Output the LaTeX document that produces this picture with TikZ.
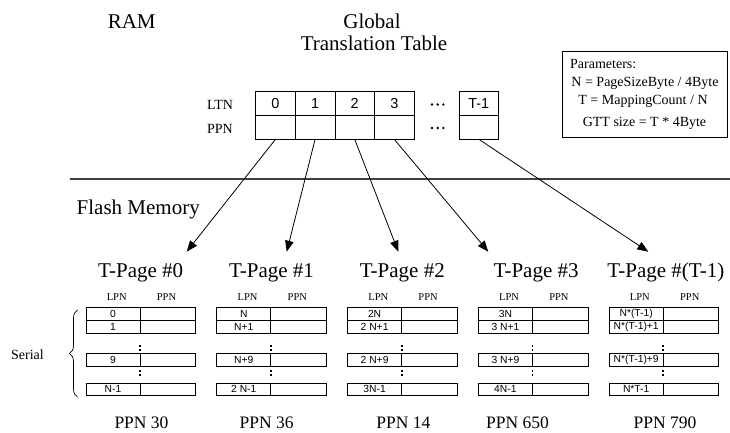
\documentclass[tikz,border=0pt]{standalone}
\usepackage{fontspec}
\setmainfont{Liberation Serif}
\newfontfamily\cellfont{Liberation Sans}
\usetikzlibrary{arrows.meta,decorations.pathreplacing}

\begin{document}
\begin{tikzpicture}[x=1pt,y=-1pt,
  txt/.style={inner sep=0pt, anchor=base},
  gcell/.style={draw, line width=0.8pt, minimum width=39.6pt, minimum height=23.6pt,
    inner sep=0pt, font=\cellfont\fontsize{14.5}{16}\selectfont},
  lcell/.style={draw, line width=0.7pt, minimum width=54pt, minimum height=12.7pt,
    inner sep=0pt, font=\cellfont\fontsize{10.3}{11}\selectfont},
  pcell/.style={draw, line width=0.7pt, minimum width=55.5pt, minimum height=12.7pt,
    inner sep=0pt},
  arr/.style={line width=0.8pt, -{Triangle[length=11pt,width=8.5pt]}},
  big/.style={txt, font=\fontsize{21}{24}\selectfont},
  mid/.style={txt, font=\fontsize{17.5}{20}\selectfont},
  small/.style={txt, font=\fontsize{14}{16}\selectfont},
  tiny/.style={txt, font=\fontsize{10.5}{12}\selectfont},
  vdot/.style={fill=black}
]
\useasboundingbox (0,0) rectangle (730,432);

% headings of the two memory areas
\node[big] (ram) at (131.7,28.3) {RAM};
\node[big] (gtt1) at (372,28.3) {Global};
\node[big] (gtt2) at (374,50) {Translation Table};
\node[big, anchor=base west] (flash) at (76.5,214.3) {Flash Memory};

% boundary between RAM and flash
\draw[line width=1.3pt, black!75] (70,179) -- (730,179);

% global translation table
\node[small] (ltn) at (220,109.3) {LTN};
\node[small] (ppn) at (220,133.3) {PPN};
\foreach \i in {0,1,2,3} {
  \node[gcell] (l\i) at ({275.5+39.6*\i},103.5) {\i};
  \node[gcell] (p\i) at ({275.5+39.6*\i},127.1) {};
}
\node[gcell, minimum width=39pt] (lT) at (478.8,103.5) {T-1};
\node[gcell, minimum width=39pt] (pT) at (478.8,127.1) {};
\foreach \dx in {-5.7,0,5.7} {
  \fill (437.7+\dx,104.5) circle (1.3);
  \fill (437.7+\dx,128) circle (1.3);
}

% parameter box
\node[draw, line width=1pt, minimum width=165.5pt, minimum height=86pt, inner sep=0pt,
  anchor=north west] (params) at (561.5,51) {};
\node[small, anchor=base west] (par0) at (570,68.3) {Parameters:};
\node[small] (par1) at (645,86.7) {N = PageSizeByte / 4Byte};
\node[small] (par2) at (643,104.3) {T = MappingCount / N};
\node[small] (par3) at (644.5,126) {GTT size = T * 4Byte};

% translation pages
\foreach \i/\a/\b/\c/\d/\t/\px/\pl in {
  0/0/1/9/N-1/\#0/141.5/PPN 30,
  1/N/N+1/N+9/2 N-1/\#1/266.7/PPN 36,
  2/2N/2 N+1/2 N+9/3N-1/\#2/403.3/PPN 14,
  3/3N/3 N+1/3 N+9/4N-1/\#3/517.5/PPN 650,
  4/N*(T-1)/N*(T-1)+1/N*(T-1)+9/N*T-1/\#(T-1)/665/PPN 790} {
  \pgfmathsetmacro{\lx}{86+130.8*\i}
  \node[big] (title\i) at ({\lx+54.7+(\i==3)*3+(\i==4)*2},277.7) {T-Page \t};
  \node[tiny] (hl\i) at ({\lx+30.7},300.5) {LPN};
  \node[tiny] (hp\i) at ({\lx+80.5},300.5) {PPN};
  \node[lcell] (a\i) at ({\lx+27},313.85) {\a};
  \node[pcell] (pa\i) at ({\lx+81.75},313.85) {};
  \node[lcell] (b\i) at ({\lx+27},326.55) {\b};
  \node[pcell] (pb\i) at ({\lx+81.75},326.55) {};
  \node[lcell] (c\i) at ({\lx+27},359.85) {\c};
  \node[pcell] (pc\i) at ({\lx+81.75},359.85) {};
  \node[lcell] (d\i) at ({\lx+27},389.35) {\d};
  \node[pcell] (pd\i) at ({\lx+81.75},389.35) {};
  \foreach \yy in {345.8,349.8,371.2,375.2}
    \fill[vdot] ({\lx+54-0.9},\yy-0.9) rectangle ++(1.8,1.8);
  \node[mid] (ppnl\i) at (\px,428.3) {\pl};
}

% serial range brace
\coordinate (brb) at (77.5,397);
\coordinate (brt) at (77.5,310);
\draw[line width=0.7pt, decorate, decoration={brace, amplitude=8pt}] (brb) -- (brt);
\node[txt, font=\fontsize{14}{16}\selectfont] (serial) at (27.5,359.5) {Serial};

% pointers from the table to the translation pages
\coordinate (t0) at (186.7,251.7);
\coordinate (t1) at (286.7,251.7);
\coordinate (t2) at (398.3,251.7);
\coordinate (t3) at (488.3,251.7);
\coordinate (t4) at (648.3,251.7);
\draw[arr] (p0.south) -- (t0);
\draw[arr] (p1.south) -- (t1);
\draw[arr] (p2.south) -- (t2);
\draw[arr] (p3.south) -- (t3);
\draw[arr] (pT.south) -- (t4);
\end{tikzpicture}
\end{document}
